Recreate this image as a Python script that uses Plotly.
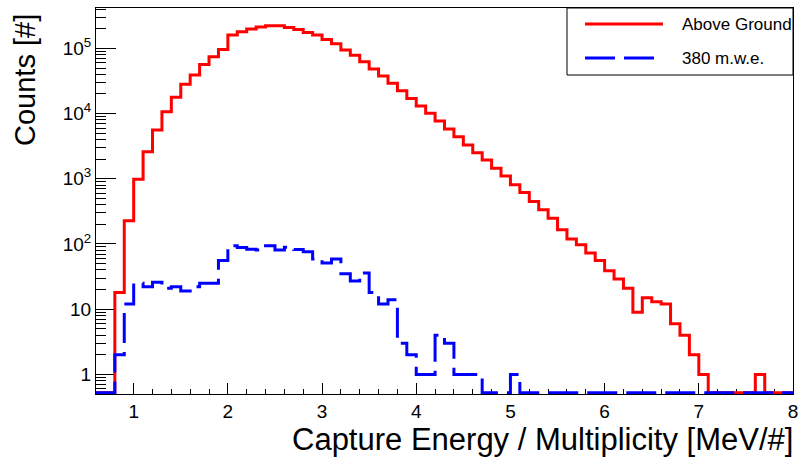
import math
import plotly.graph_objects as go

# ---------------- data ----------------
bin_edges = [0.6, 0.7, 0.8, 0.9, 1.0, 1.1, 1.2, 1.3, 1.4, 1.5, 1.6, 1.7, 1.8, 1.9,
             2.0, 2.1, 2.2, 2.3, 2.4, 2.5, 2.6, 2.7, 2.8, 2.9, 3.0, 3.1, 3.2, 3.3,
             3.4, 3.5, 3.6, 3.7, 3.8, 3.9, 4.0, 4.1, 4.2, 4.3, 4.4, 4.5, 4.6, 4.7,
             4.8, 4.9, 5.0, 5.1, 5.2, 5.3, 5.4, 5.5, 5.6, 5.7, 5.8, 5.9, 6.0, 6.1,
             6.2, 6.3, 6.4, 6.5, 6.6, 6.7, 6.8, 6.9, 7.0, 7.1, 7.2, 7.3, 7.4, 7.5,
             7.6, 7.7, 7.8, 7.9, 8.0]

above_ground = [0, 0, 18, 227, 980, 2610, 5600, 10700, 17800, 28100, 39000, 56900,
                74300, 96400, 160000, 180000, 198000, 214000, 222000, 222000,
                210000, 195000, 176000, 160000, 137000, 118000, 94200, 78900,
                62400, 48200, 37600, 29100, 22400, 17100, 13100, 10100, 7700,
                5810, 4430, 3300, 2520, 1940, 1450, 1100, 807, 615, 448, 334,
                249, 165, 119, 97, 73, 56, 39, 29, 21, 9, 15, 13, 12, 6, 4, 2,
                1, 0, 0, 0, 0, 0, 1, 0, 0, 0]

mwe_380 = [0, 0, 2, 12, 25, 22, 26, 21, 22, 19, 22, 25, 25, 56, 94, 88, 83, 81,
           94, 81, 89, 82, 76, 59, 51, 59, 35, 27, 36, 18, 12, 14, 3, 2, 1, 1,
           4, 3, 1, 1, 1, 0, 0, 0, 1, 0, 0, 0, 0, 0, 0, 0, 0, 0, 0, 0, 0, 0,
           0, 0, 0, 0, 0, 0, 0, 0, 0, 0, 0, 0, 0, 0, 0, 0]

series_names = ["Above Ground", "380 m.w.e."]
y_tick_vals = [1, 10, 100, 1000, 10000, 100000]
y_tick_text = ["1", "10", "10<sup>2</sup>", "10<sup>3</sup>", "10<sup>4</sup>", "10<sup>5</sup>"]
x_title = "Capture Energy / Multiplicity [MeV/#]"
y_title = "Counts [#]"

# ---------------- layout geometry ----------------
W, H = 799, 458
L, R, T, B = 96, 793, 8, 394
Y_MIN = 0.5
Y_MAX_LOG = 5.62
FONT = "Liberation Sans, Arial, Helvetica, sans-serif"
RED = "#ff0000"
BLUE = "#0000ff"
BLUE_DASH = "30px,9px"
# zero bins on a log axis sit on the frame floor (as ROOT draws them);
# nudged up ~1px so the 3px line is not half clipped
FLOOR = 10 ** (math.log10(Y_MIN) + 0.02)


def px_x(px):
    return (px - L) / (R - L)


def px_y(py):
    return (B - py) / (B - T)


def hist_y(counts):
    ys = [c if c > 0 else FLOOR for c in counts]
    return ys + [ys[-1]]


fig = go.Figure()
fig.add_trace(go.Scatter(x=bin_edges, y=hist_y(above_ground), mode="lines",
                         line=dict(color=RED, width=3, shape="hv"),
                         name=series_names[0], showlegend=False))
fig.add_trace(go.Scatter(x=bin_edges, y=hist_y(mwe_380), mode="lines",
                         line=dict(color=BLUE, width=3, shape="hv", dash=BLUE_DASH),
                         name=series_names[1], showlegend=False))

minor_y = [k * 10 ** d for d in range(-1, 6) for k in range(2, 10)
           if math.log10(Y_MIN) <= math.log10(k * 10 ** d) <= Y_MAX_LOG]

fig.update_xaxes(range=[bin_edges[0], bin_edges[-1]], showline=True, mirror=True,
                 automargin=False, layer="below traces",
                 linecolor="black", linewidth=1, showgrid=False, zeroline=False,
                 ticks="inside", ticklen=11, tickwidth=1, tickcolor="black",
                 tick0=0, dtick=1,
                 minor=dict(ticks="inside", ticklen=5, tickwidth=1, tickcolor="black",
                            dtick=0.2, tick0=0, showgrid=False),
                 tickfont=dict(family=FONT, size=19, color="black"))
fig.update_yaxes(type="log", range=[math.log10(Y_MIN), Y_MAX_LOG], showline=True,
                 mirror=True, automargin=False, layer="below traces",
                 linecolor="black", linewidth=1, showgrid=False,
                 zeroline=False, ticks="inside", ticklen=20, tickwidth=1,
                 tickcolor="black", tickmode="array", tickvals=y_tick_vals,
                 ticktext=y_tick_text,
                 minor=dict(ticks="inside", ticklen=10, tickwidth=1, tickcolor="black",
                            tickmode="array", tickvals=minor_y, showgrid=False),
                 tickfont=dict(family=FONT, size=19, color="black"))

shapes = []
annotations = []
# legend box
shapes.append(dict(type="rect", xref="paper", yref="paper",
                   x0=px_x(567), x1=px_x(793), y0=px_y(75), y1=px_y(8),
                   line=dict(color="black", width=1), fillcolor="white", layer="above"))
# legend samples
shapes.append(dict(type="line", xref="paper", yref="paper",
                   x0=px_x(585), x1=px_x(663), y0=px_y(24), y1=px_y(24),
                   line=dict(color=RED, width=3), layer="above"))
shapes.append(dict(type="line", xref="paper", yref="paper",
                   x0=px_x(585), x1=px_x(663), y0=px_y(58), y1=px_y(58),
                   line=dict(color=BLUE, width=3, dash=BLUE_DASH), layer="above"))
for name, py in zip(series_names, [24, 58]):
    annotations.append(dict(text=name, xref="paper", yref="paper", x=px_x(680),
                            y=px_y(py), xanchor="left", yanchor="middle",
                            showarrow=False, font=dict(family=FONT, size=17, color="black")))
# axis titles
annotations.append(dict(text=x_title, xref="paper", yref="paper", x=px_x(795),
                        y=px_y(439), xanchor="right", yanchor="middle", showarrow=False,
                        font=dict(family=FONT, size=31, color="black")))
annotations.append(dict(text=y_title, xref="paper", yref="paper", x=px_x(25),
                        y=px_y(12), xanchor="center", yanchor="top", textangle=-90,
                        showarrow=False, font=dict(family=FONT, size=29, color="black")))

fig.update_layout(width=W, height=H, margin=dict(l=L, r=W - R, t=T, b=H - B),
                  paper_bgcolor="white", plot_bgcolor="white", showlegend=False,
                  shapes=shapes, annotations=annotations)

fig.write_html("out.html")
